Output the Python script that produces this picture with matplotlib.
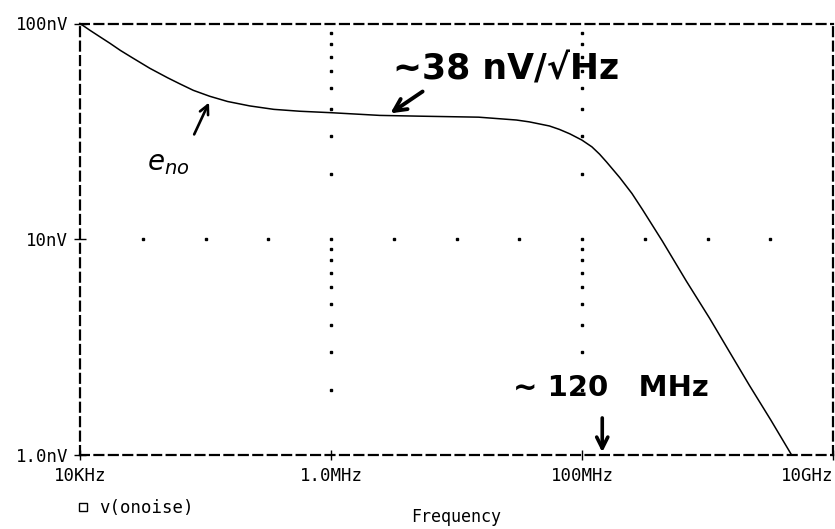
import matplotlib
matplotlib.use("Agg")
import matplotlib.pyplot as plt
from matplotlib.lines import Line2D

# Output noise density of the amplifier (V(onoise)), read at sample frequencies
freq_hz = [1.0e4, 1.2e4, 1.44e4, 1.73e4, 2.1e4, 2.6e4, 3.6e4, 5.0e4, 6.25e4, 8.0e4,
           1.08e5, 1.5e5, 2.25e5, 3.5e5, 5.65e5, 1.0e6, 2.45e6, 5.0e6, 1.5e7,
           3.0e7, 3.8e7, 5.5e7, 6.6e7, 8.0e7, 1.0e8, 1.2e8, 1.38e8, 1.57e8,
           2.0e8, 2.5e8, 3.04e8, 4.37e8, 6.78e8, 1.04e9, 1.5e9, 2.16e9, 3.2e9,
           4.68e9]
noise_nv = [100.0, 93.0, 86.8, 81.0, 75.0, 69.5, 62.0, 56.0, 52.5, 49.0,
            46.0, 43.5, 41.5, 40.0, 39.2, 38.6, 37.5, 37.2, 36.8,
            35.7, 35.0, 33.5, 32.3, 30.8, 28.8, 26.8, 24.8, 22.8,
            19.3, 16.3, 13.7, 9.8, 6.4, 4.3, 3.0, 2.1, 1.45,
            1.0]

x_ticks = [1e4, 1e6, 1e8, 1e10]
x_tick_labels = ["10KHz", "1.0MHz", "100MHz", "10GHz"]
y_ticks = [1.0, 10.0, 100.0]
y_tick_labels = ["1.0nV", "10nV", "100nV"]

mono = "DejaVu Sans Mono"
hand = "DejaVu Sans"

fig = plt.figure(figsize=(8.35, 5.29), dpi=100)
ax = fig.add_axes([80 / 835, 1 - 455 / 529, 753 / 835, (455 - 23.5) / 529])

ax.set_xscale("log")
ax.set_yscale("log")
ax.set_xlim(1e4, 1e10)
ax.set_ylim(1.0, 100.0)

# dashed plot frame
for sp in ax.spines.values():
    sp.set_linestyle((0, (4, 2.5)))
    sp.set_linewidth(1.6)
    sp.set_color("black")

# dotted grid: vertical lines at 1MHz / 100MHz with dots at minor decades,
# horizontal line at 10nV with dots every half decade
minor_v = [m * d for d in (1.0, 10.0) for m in range(2, 10)]
for xv in (1e6, 1e8):
    ax.plot([xv] * len(minor_v), minor_v, linestyle="none", marker="s",
            markersize=1.6, color="black")
half_dec = [10 ** (4 + 0.5 * k) for k in range(1, 12)]
ax.plot(half_dec, [10.0] * len(half_dec), linestyle="none", marker="s",
        markersize=1.6, color="black")

# noise curve
ax.plot(freq_hz, noise_nv, color="black", linewidth=1.1, clip_on=False)

ax.set_xticks(x_ticks)
ax.set_xticklabels(x_tick_labels, family=mono, fontsize=12.5)
ax.set_yticks(y_ticks)
ax.set_yticklabels(y_tick_labels, family=mono, fontsize=12.5)
ax.minorticks_off()
ax.tick_params(axis="x", direction="inout", length=7, width=1, pad=5)
ax.tick_params(axis="y", direction="inout", length=9, width=1, pad=4)
ax.get_xticklabels()[-1].set_horizontalalignment("right")

ax.set_xlabel("Frequency", family=mono, fontsize=12, labelpad=17)

# legend entry below the axis
handle = Line2D([], [], linestyle="none", marker="s", markersize=6,
                markerfacecolor="white", markeredgecolor="black", markeredgewidth=1)
ax.legend([handle], ["v(onoise)"], loc="upper left", bbox_to_anchor=(-0.012, -0.085),
          frameon=False, prop={"family": mono, "size": 12.5},
          handlelength=0.6, handletextpad=0.6, borderaxespad=0)

# handwritten annotations
ax.annotate("", xy=(2.85e6, 37.7), xytext=(5.6e6, 49.2),
            arrowprops=dict(arrowstyle="->", lw=2.8, color="black",
                            mutation_scale=22))
ax.text(3.1e6, 60.9, "~38 nV/√Hz", family=hand, fontsize=25, fontweight="bold",
        color="black", va="center", ha="left")

ax.annotate("", xy=(1.09e5, 44.2), xytext=(7.95e4, 29.8),
            arrowprops=dict(arrowstyle="->", lw=1.9, color="black",
                            mutation_scale=16))
ax.text(3.4e4, 22.5, r"$e_{no}$", family=hand, fontsize=20, color="black",
        va="center", ha="left")

ax.text(1.7e8, 2.04, "~ 120   MHz", family=hand, fontsize=21, fontweight="bold",
        color="black", va="center", ha="center")
ax.annotate("", xy=(1.45e8, 1.0), xytext=(1.45e8, 1.53),
            arrowprops=dict(arrowstyle="->", lw=2.6, color="black",
                            mutation_scale=20))

fig.savefig("out.png", dpi=100)
